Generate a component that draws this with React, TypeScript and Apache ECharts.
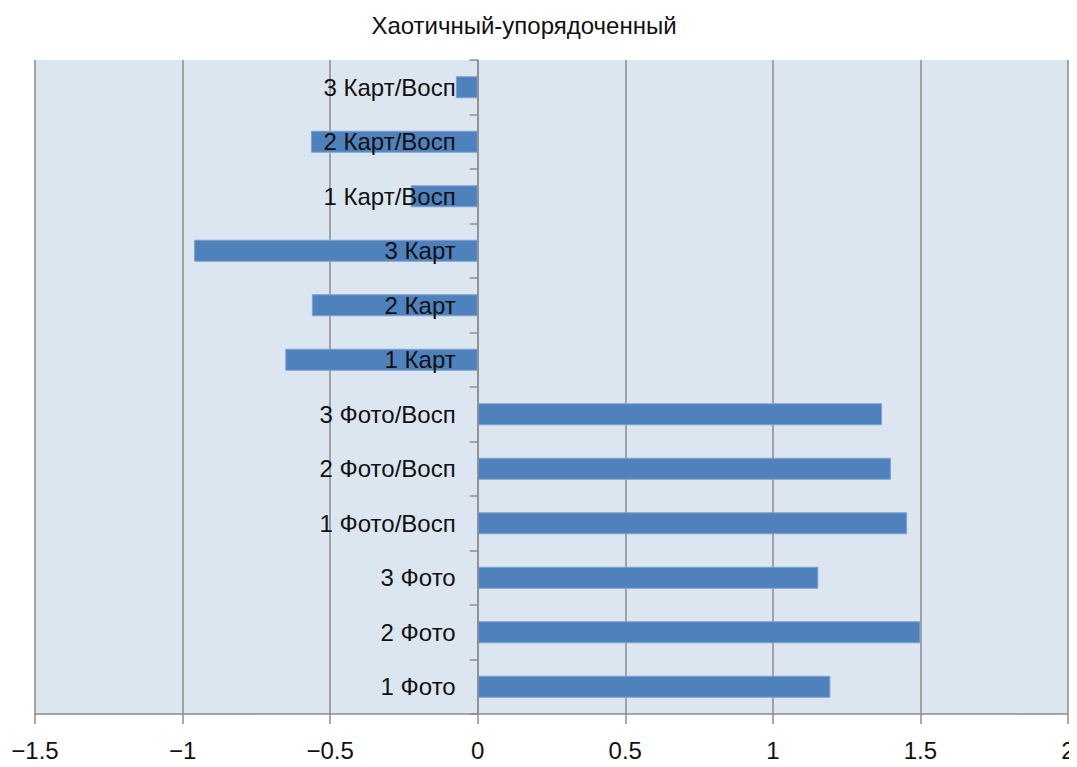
import React, { useEffect, useRef } from "react";
import * as echarts from "echarts";

const title = "Хаотичный-упорядоченный";
const categories = [
  "1 Фото",
  "2 Фото",
  "3 Фото",
  "1 Фото/Восп",
  "2 Фото/Восп",
  "3 Фото/Восп",
  "1 Карт",
  "2 Карт",
  "3 Карт",
  "1 Карт/Восп",
  "2 Карт/Восп",
  "3 Карт/Восп",
];
const values = [1.195, 1.5, 1.154, 1.455, 1.4, 1.37, -0.652, -0.562, -0.961, -0.227, -0.565, -0.074];
const xMin = -1.5;
const xMax = 2;
const xInterval = 0.5;

function fmt(v: number): string {
  const s = String(Math.abs(v)).replace(".", ",");
  return v < 0 ? "\u2212" + s : s;
}

const W = 1077;
const H = 767;
const gridLeft = 35;
const gridRight = 9;

export default function App() {
  const ref = useRef<HTMLDivElement>(null);
  useEffect(() => {
    if (!ref.current) return;
    const chart = echarts.init(ref.current, undefined, { renderer: "svg" });
    const font = "'Liberation Sans', Arial, Helvetica, sans-serif";
    const plotW = W - gridLeft - gridRight;
    const zeroOffset = ((0 - xMin) / (xMax - xMin)) * plotW;
    chart.setOption({
      animation: false,
      title: {
        text: title,
        left: 519,
        top: 8,
        textAlign: "center",
        textStyle: { fontFamily: font, fontSize: 24, fontWeight: "normal", color: "#111" },
      },
      grid: {
        left: gridLeft,
        right: gridRight,
        top: 60,
        bottom: 53,
        show: true,
        backgroundColor: "#dce6f1",
        borderWidth: 0,
        containLabel: false,
        outerBoundsMode: "none",
      },
      xAxis: {
        type: "value",
        min: xMin,
        max: xMax,
        interval: xInterval,
        axisLine: { show: true, lineStyle: { color: "#8c8c8c", width: 1.5 } },
        axisTick: { show: true, length: 10, lineStyle: { color: "#8c8c8c", width: 1.5 } },
        axisLabel: {
          formatter: (v: number) => fmt(v),
          fontFamily: font,
          fontSize: 24,
          color: "#111",
          margin: 24,
        },
        splitLine: { show: true, lineStyle: { color: "#8c8c8c", width: 1.5 } },
      },
      yAxis: {
        type: "category",
        data: categories,
        z: 5,
        position: "left",
        offset: -zeroOffset,
        axisLine: { show: true, onZero: false, lineStyle: { color: "#8c8c8c", width: 1.5 } },
        axisTick: { show: true, length: 8, lineStyle: { color: "#8c8c8c", width: 1.5 } },
        axisLabel: {
          fontFamily: font,
          fontSize: 24,
          color: "#111",
          margin: 22,
        },
        splitLine: { show: false },
      },
      series: [
        {
          type: "bar",
          data: values,
          barWidth: 22,
          itemStyle: { color: "#4f81bd", borderColor: "#7fa3cf", borderWidth: 1 },
        },
      ],
    });
    return () => chart.dispose();
  }, []);
  return <div ref={ref} style={{ width: W, height: H, margin: -8 }} />;
}
